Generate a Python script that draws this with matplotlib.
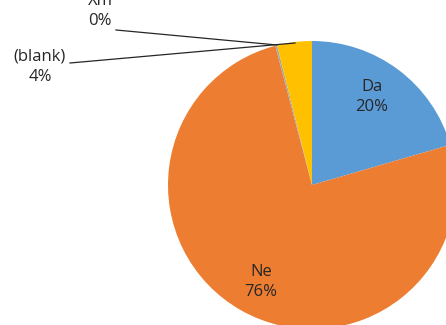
import matplotlib
matplotlib.use("Agg")
import matplotlib.pyplot as plt

# data
labels = ['Da', 'Ne', 'Xm', '(blank)']
values = [20.5, 75.4, 0.2, 3.9]
pct_labels = ['20%', '76%', '0%', '4%']
colors = ['#5B9BD5', '#ED7D31', '#A5A5A5', '#FFC000']

plt.rcParams['font.family'] = ['Open Sans', 'DejaVu Sans']

W, H = 446, 325
CX, CY, R = 312, 185, 144   # pie centre / radius in pixels
FS = 12


def px(x, y):
    # pixel position -> data coords (pie radius = 1)
    return (x - CX) / R, (CY - y) / R


fig = plt.figure(figsize=(W / 100, H / 100), dpi=100)
ax = fig.add_axes([0, 0, 1, 1])

ax.pie(values, colors=colors, startangle=90, counterclock=False, radius=1,
       wedgeprops=dict(linewidth=0))

# pie() resets the limits, so set them afterwards
ax.set_xlim(-CX / R, (W - CX) / R)
ax.set_ylim(-(H - CY) / R, CY / R)
ax.set_aspect('auto')
ax.axis('off')


def label(name, pct, x, y):
    tx, ty = px(x, y)
    ax.text(tx, ty, name + '\n' + pct, ha='center', va='center',
            fontsize=FS, color='#262626', linespacing=1.4)


# inside labels
label(labels[0], pct_labels[0], 372, 97)
label(labels[1], pct_labels[1], 261, 282)

# outside labels with leader lines
label(labels[2], pct_labels[2], 100, 11)
x0, y0 = px(116, 30)
x1, y1 = px(277, 45)
ax.plot([x0, x1], [y0, y1], color='#262626', lw=0.9)

label(labels[3], pct_labels[3], 40, 67)
x0, y0 = px(70, 63)
x1, y1 = px(295, 43)
ax.plot([x0, x1], [y0, y1], color='#262626', lw=0.9)

fig.savefig('out.png', dpi=100)
